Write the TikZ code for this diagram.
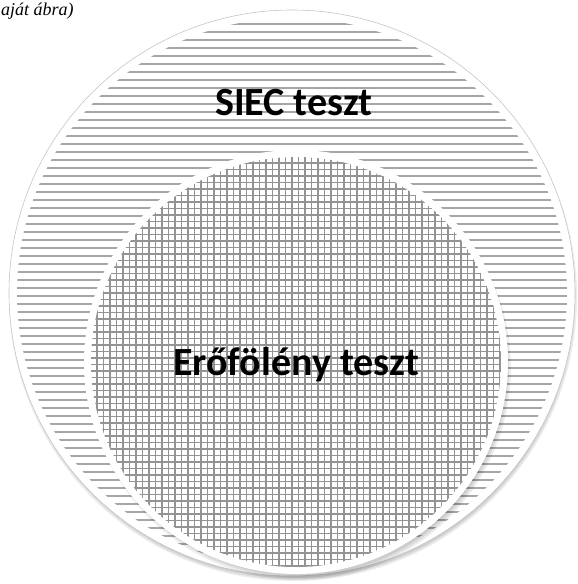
\documentclass[tikz,border=0pt]{standalone}
\usepackage{fontspec}
\setmainfont{Carlito}
\newfontfamily\captionfont{Liberation Serif}
\tikzset{
  hatch/.style={gray!70,line width=1.8pt},
  gridline/.style={gray!85,line width=1.4pt},
  shadowring/.style={black,opacity=0.07},
  label/.style={anchor=base,inner sep=0pt,font=\fontsize{40}{48}\selectfont\bfseries}
}
\begin{document}
\begin{tikzpicture}[x=1pt,y=-1pt]
\useasboundingbox (0,0) rectangle (578,584);
\foreach \k in {0,1.5,3}
  \fill[shadowring] (293,297) circle (281+\k);
\fill[white] (292,293) circle (283);
\draw[gray!45,line width=0.6pt] (292,293) circle (283);
\begin{scope}
  \clip (292,293) circle (275);
  \foreach \y in {0,8,...,584}
    \draw[hatch] (0,\y) -- (578,\y);
\end{scope}
\foreach \k in {0,2,4}
  \fill[shadowring] (299,368) circle (208+\k);
\fill[white] (296,362) circle (212);
\begin{scope}
  \clip (296,362) circle (205);
  \foreach \y in {150,156.5,...,576}
    \draw[gridline] (80,\y) -- (512,\y);
  \foreach \x in {84,90.5,...,512}
    \draw[gridline] (\x,150) -- (\x,576);
\end{scope}
\node[label] (siec) at (294,115) {SIEC teszt};
\node[label] (erofoleny) at (296,375) {Erőfölény teszt};
\node[anchor=base west,inner sep=0pt] (forras) at (1,15) {\captionfont\itshape\fontsize{18}{22}\selectfont aját ábra)};
\end{tikzpicture}
\end{document}
